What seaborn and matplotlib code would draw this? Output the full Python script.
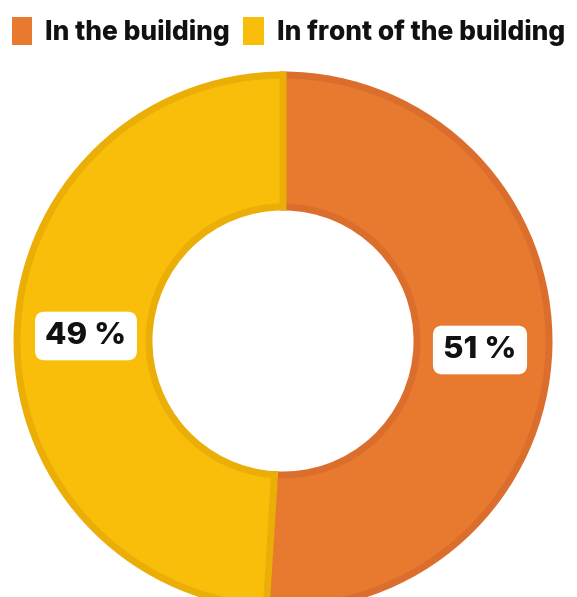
import matplotlib
matplotlib.use("Agg")
import matplotlib.pyplot as plt
import seaborn as sns
from matplotlib.patches import Patch

categories = ["In the building", "In front of the building"]
values = [51, 49]
labels = ["51 %", "49 %"]
colors = ["#E87A30", "#F8BE0A"]
edge_colors = ["#DB6E2C", "#EAAE06"]

sns.set_theme(style="white")
plt.rcParams['font.family'] = ['Inter', 'DejaVu Sans']

fig = plt.figure(figsize=(5.77, 5.97), dpi=100)
ax = fig.add_axes([0, 0, 1, 1])

R = 266
width = 132
wedges, _ = ax.pie(values, colors=colors, startangle=90, counterclock=False,
                   center=(283, 256), radius=R,
                   wedgeprops=dict(width=width, linewidth=5))
for w, ec in zip(wedges, edge_colors):
    w.set_edgecolor(ec)

ax.set_xlim(0, 577)
ax.set_ylim(0, 597)
ax.set_aspect('equal')
ax.axis('off')

# labels
label_pos = [(480, 247), (86, 261)]
for (x, y), t in zip(label_pos, labels):
    ax.text(x, y, t, ha='center', va='center', fontsize=22.5, fontweight='heavy',
            color='#111111',
            bbox=dict(boxstyle='round,pad=0.33,rounding_size=0.3', fc='white', ec='none'))

handles = [Patch(facecolor=c, edgecolor='none') for c in colors]
leg = fig.legend(handles, categories, loc='upper center', bbox_to_anchor=(0.5, 1.012),
                 ncol=2, frameon=False, handlelength=0.78, handleheight=1.3,
                 handletextpad=0.5, columnspacing=0.5,
                 prop=dict(size=19, weight='heavy'))
for t in leg.get_texts():
    t.set_color('#111111')

fig.savefig("out.png", dpi=100, facecolor='white')
